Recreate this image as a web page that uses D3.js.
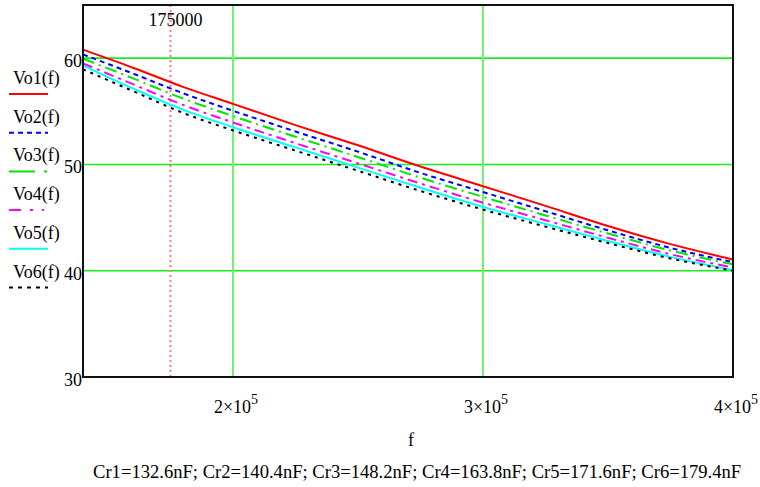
<!DOCTYPE html>
<html>
<head>
  <meta charset="utf-8">
  <title>Vo(f)</title>
  <script src="https://d3js.org/d3.v7.min.js"></script>
  <style>
    body { margin: 0; background: #fff; }
    text { font-family: "Liberation Serif", "Times New Roman", serif; fill: #000; }
  </style>
</head>
<body>
<script>
// frequency samples (Hz) and output voltage of each curve
var freq = [140000, 160000, 180000, 200000, 225000, 250000, 275000, 300000, 325000, 350000, 375000, 400000];
var vo1 = [60.8, 59.1, 57.3, 55.7, 53.7, 51.8, 49.8, 47.95, 46.1, 44.2, 42.5, 41.05];
var vo2 = [60.35, 58.55, 56.7, 55.05, 53.1, 51.2, 49.2, 47.4, 45.6, 43.8, 42.15, 40.8];
var vo3 = [59.95, 58.1, 56.2, 54.55, 52.6, 50.7, 48.75, 46.95, 45.2, 43.5, 41.9, 40.6];
var vo4 = [59.5, 57.55, 55.6, 53.95, 52.0, 50.1, 48.2, 46.4, 44.75, 43.1, 41.55, 40.3];
var vo5 = [59.3, 57.15, 55.15, 53.5, 51.6, 49.7, 47.8, 46.0, 44.4, 42.8, 41.3, 40.05];
var vo6 = [58.95, 56.9, 54.85, 53.2, 51.3, 49.4, 47.5, 45.75, 44.15, 42.6, 41.15, 40.0];

var names = ["Vo1(f)", "Vo2(f)", "Vo3(f)", "Vo4(f)", "Vo5(f)", "Vo6(f)"];
var yTicks = [30, 40, 50, 60];
var xTicks = [200000, 300000, 400000];
var xTickLabels = ["2\u00d710", "3\u00d710", "4\u00d710"];
var marker = 175000;
var caption = "Cr1=132.6nF; Cr2=140.4nF; Cr3=148.2nF; Cr4=163.8nF; Cr5=171.6nF; Cr6=179.4nF";

var series = [
  {name: names[0], values: vo1, color: "#ff0000", dash: null, legDash: null},
  {name: names[1], values: vo2, color: "#0000ff", dash: "5,4", legDash: "5,4"},
  {name: names[2], values: vo3, color: "#00e600", dash: "12,5,2,5", legDash: "26,9,3,9"},
  {name: names[3], values: vo4, color: "#ff00ff", dash: "10,5,3,5", legDash: "12,9,3,9,2"},
  {name: names[4], values: vo5, color: "#00ffff", dash: null, legDash: null},
  {name: names[5], values: vo6, color: "#000000", dash: "3,5", legDash: "4,5"}
];

var width = 760, height = 487;
var pLeft = 83, pRight = 733, pTop = 5, pBottom = 377;

var svg = d3.select("body").append("svg").attr("width", width).attr("height", height);

var x = d3.scaleLinear().domain([140000, 400000]).range([pLeft, pRight]);
var y = d3.scaleLinear().domain([30, 65]).range([pBottom, pTop]);

// grid
svg.selectAll(".hgrid").data([40, 50, 60]).enter().append("line")
  .attr("x1", pLeft).attr("x2", pRight)
  .attr("y1", function(d) { return y(d); }).attr("y2", function(d) { return y(d); })
  .attr("stroke", "#1aee1a").attr("stroke-width", 1.6);
svg.selectAll(".vgrid").data([200000, 300000]).enter().append("line")
  .attr("x1", function(d) { return x(d); }).attr("x2", function(d) { return x(d); })
  .attr("y1", pTop).attr("y2", pBottom)
  .attr("stroke", "#6ef56e").attr("stroke-width", 2);

// marker line at 175000
svg.append("line")
  .attr("x1", x(marker)).attr("x2", x(marker)).attr("y1", pTop).attr("y2", pBottom)
  .attr("stroke", "#ff7a7a").attr("stroke-width", 2).attr("stroke-dasharray", "2,3");
svg.append("text").attr("x", x(marker) + 5).attr("y", 26)
  .attr("text-anchor", "middle").attr("font-size", 18).text(String(marker));

// curves
var line = d3.line()
  .x(function(d) { return x(d[0]); })
  .y(function(d) { return y(d[1]); })
  .curve(d3.curveMonotoneX);

svg.append("g").selectAll("path").data(series).enter().append("path")
  .attr("d", function(s) { return line(freq.map(function(f, i) { return [f, s.values[i]]; })); })
  .attr("fill", "none")
  .attr("stroke", function(s) { return s.color; })
  .attr("stroke-width", 2)
  .attr("stroke-dasharray", function(s) { return s.dash; });

// frame
svg.append("rect").attr("x", pLeft).attr("y", pTop)
  .attr("width", pRight - pLeft).attr("height", pBottom - pTop)
  .attr("fill", "none").attr("stroke", "#111").attr("stroke-width", 2);

// y tick labels
svg.selectAll(".ylab").data(yTicks).enter().append("text")
  .attr("x", pLeft - 1).attr("y", function(d) { return y(d) + 9; })
  .attr("text-anchor", "end").attr("font-size", 18)
  .text(function(d) { return d; });

// x tick labels with superscript
var xl = svg.selectAll(".xlab").data(xTicks).enter().append("text")
  .attr("x", function(d) { return x(d) + 3; }).attr("y", 413)
  .attr("text-anchor", "middle").attr("font-size", 18);
xl.append("tspan").text(function(d, i) { return xTickLabels[i]; });
xl.append("tspan").attr("dy", -9).attr("font-size", 14).text("5");

// axis title and caption
svg.append("text").attr("x", (pLeft + pRight) / 2 + 3).attr("y", 446)
  .attr("text-anchor", "middle").attr("font-size", 18).text("f");
svg.append("text").attr("x", 93).attr("y", 478)
  .attr("font-size", 18.6).text(caption);

// legend
var leg = svg.append("g").selectAll("g").data(series).enter().append("g")
  .attr("transform", function(d, i) { return "translate(0," + (94 + i * 38.7) + ")"; });
leg.append("text").attr("x", 13).attr("y", -10).attr("font-size", 18)
  .text(function(d) { return d.name; });
leg.append("line").attr("x1", 9).attr("x2", 48).attr("y1", 0).attr("y2", 0)
  .attr("stroke", function(d) { return d.color; }).attr("stroke-width", 2)
  .attr("stroke-dasharray", function(d) { return d.legDash; });
</script>
</body>
</html>
